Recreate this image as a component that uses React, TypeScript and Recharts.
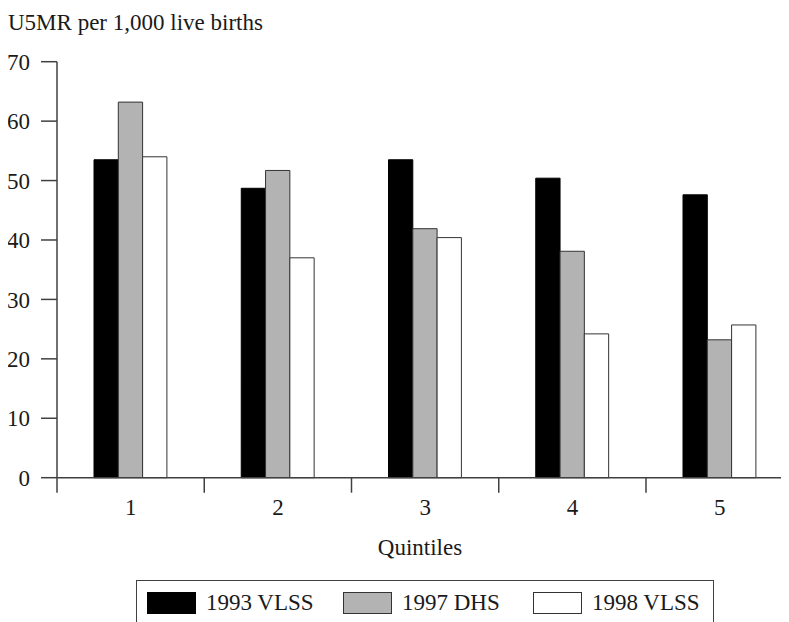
import { Bar, BarChart, Legend, XAxis, YAxis } from 'recharts'

const quintiles = ['1', '2', '3', '4', '5']
const vlss1993 = [53.5, 48.7, 53.5, 50.4, 47.6]
const dhs1997 = [63.2, 51.7, 41.9, 38.1, 23.2]
const vlss1998 = [54.0, 37.0, 40.4, 24.2, 25.7]
const yTicks = [0, 10, 20, 30, 40, 50, 60, 70]

const SERIES = [
  { key: 'vlss1993', name: '1993 VLSS', fill: '#000000', stroke: '#000000' },
  { key: 'dhs1997', name: '1997 DHS', fill: '#b3b3b3', stroke: '#333333' },
  { key: 'vlss1998', name: '1998 VLSS', fill: '#ffffff', stroke: '#333333' },
]

const FONT = '"Liberation Serif", "Times New Roman", serif'
const FS = 23
const INK = '#1a1a1a'
const AXIS = '#404040'

// chart geometry (chart coords; the wrapper sits at the 8px body margin)
const W = 800
const H = 614
const LEFT = 49
const TOP = 53.7
const PLOT_H = 416
const PLOT_W = 736.25
const X_AXIS_H = 30
const BAND = PLOT_W / quintiles.length
const PLOT_BOTTOM = TOP + PLOT_H

const data = quintiles.map((q, i) => ({
  q,
  vlss1993: vlss1993[i],
  dhs1997: dhs1997[i],
  vlss1998: vlss1998[i],
}))

function QuintileTick(props: any) {
  const { x, payload, index } = props
  return (
    <g>
      <line x1={x - BAND / 2} x2={x - BAND / 2} y1={PLOT_BOTTOM} y2={PLOT_BOTTOM + 15}
        stroke={AXIS} strokeWidth={1.5} />
      {index === quintiles.length - 1 && (
        <line x1={x + BAND / 2} x2={x + BAND / 2} y1={PLOT_BOTTOM} y2={PLOT_BOTTOM + 15}
          stroke={AXIS} strokeWidth={1.5} />
      )}
      <text x={x} y={PLOT_BOTTOM + 37.3} textAnchor="middle" fontFamily={FONT}
        fontSize={FS} fill={INK}>
        {payload.value}
      </text>
    </g>
  )
}

const ITEM_W = [196, 190, 180]

function LegendBox() {
  return (
    <div style={{
      boxSizing: 'border-box',
      width: 578,
      height: 46,
      border: `1.5px solid ${AXIS}`,
      display: 'flex',
      alignItems: 'center',
      paddingLeft: 10,
      fontFamily: FONT,
      fontSize: FS,
      color: INK,
      background: '#fff',
    }}>
      {SERIES.map((s, i) => (
        <div key={s.key} style={{ width: ITEM_W[i], display: 'flex', alignItems: 'center' }}>
          <span style={{
            display: 'inline-block',
            boxSizing: 'border-box',
            width: 49,
            height: 22,
            background: s.fill,
            border: `1px solid ${s.stroke}`,
            marginRight: 10,
          }} />
          <span style={{ lineHeight: '22px' }}>{s.name}</span>
        </div>
      ))}
    </div>
  )
}

export default function App() {
  return (
    <div style={{ position: 'relative', width: 781, height: 614, overflow: 'hidden' }}>
      <BarChart width={W} height={H} data={data} barGap={0}
        margin={{ top: TOP, right: W - LEFT - PLOT_W, bottom: H - PLOT_BOTTOM - X_AXIS_H, left: 0 }}>
        <XAxis dataKey="q" height={X_AXIS_H} tickLine={false} tick={<QuintileTick />}
          axisLine={{ stroke: AXIS, strokeWidth: 1.5 }} interval={0}
          label={{
            content: () => (
              <text x={412} y={547} textAnchor="middle" fontFamily={FONT} fontSize={FS} fill={INK}>
                Quintiles
              </text>
            ),
          }} />
        <YAxis width={LEFT} domain={[0, 70]} ticks={yTicks} interval={0} tickSize={16}
          tickMargin={11} axisLine={{ stroke: AXIS, strokeWidth: 1.5 }}
          tickLine={{ stroke: AXIS, strokeWidth: 1.5 }}
          tick={{ fontFamily: FONT, fontSize: FS, fill: INK }}
          label={{
            content: () => (
              <text x={0} y={22} fontFamily={FONT} fontSize={FS} fill={INK}>
                U5MR per 1,000 live births
              </text>
            ),
          }} />
        <Legend content={<LegendBox />} layout="horizontal" verticalAlign="middle"
          wrapperStyle={{ position: 'absolute', left: 128, top: 572, bottom: 'auto', width: 578 }} />
        {SERIES.map((s) => (
          <Bar key={s.key} dataKey={s.key} name={s.name} fill={s.fill} stroke={s.stroke}
            strokeWidth={1} barSize={24.3} isAnimationActive={false} />
        ))}
      </BarChart>
    </div>
  )
}
